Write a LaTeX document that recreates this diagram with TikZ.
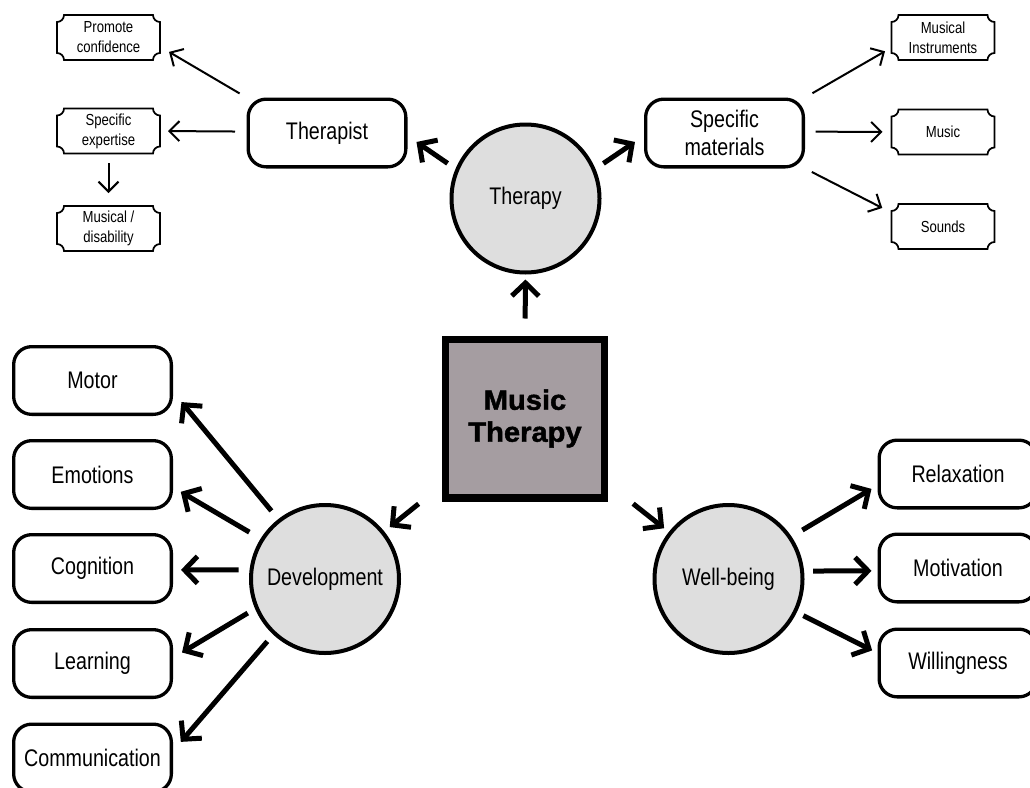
\documentclass[tikz,border=0pt]{standalone}
\usepackage{fontspec}
\setmainfont{Liberation Sans}[FakeStretch=0.82]
\newfontfamily\titlefont{Liberation Sans}[FakeStretch=1.04,FakeBold=1.6]
\usetikzlibrary{arrows.meta,calc}
\definecolor{squaregrey}{HTML}{A59DA1}
\definecolor{circlegrey}{HTML}{DEDEDE}

\tikzset{
  topic/.style={draw, rounded corners=18pt, line width=3.3pt, minimum width=157.7pt, minimum height=67.7pt, align=center, font=\fontsize{24}{28}\selectfont},
  hub/.style={circle, draw, fill=circlegrey, line width=4pt, minimum size=148pt, inner sep=0pt, font=\fontsize{24}{28}\selectfont},
  plaque/.style={minimum width=103pt, minimum height=45pt, inner sep=0pt, outer sep=0pt, align=center, font=\fontsize{16}{20}\selectfont},
  thickarrow/.style={line width=5pt, -{Straight Barb[length=13pt,width=27pt]}},
  thinarrow/.style={line width=2pt, -{Straight Barb[length=10pt,width=20pt]}}
}

\begin{document}
\begin{tikzpicture}[x=1pt,y=1pt]
  \useasboundingbox (0,0) rectangle (1030,-787);

  \node[draw, line width=7.3pt, fill=squaregrey, minimum size=158.7pt, inner sep=0pt, align=center,
        font=\titlefont\bfseries\fontsize{28}{32}\selectfont] (square) at (525,-418.5) {Music\\Therapy};

  \node[hub] (therapy) at (525.5,-198.5) {Therapy};
  \node[hub] (dev) at (325,-579) {Development};
  \node[hub] (well) at (728.5,-579) {Well-being};

  \node[topic] (therapist) at (327,-133) {Therapist};
  \node[topic] (materials) at (724.5,-133) {Specific\\materials};

  \node[plaque] (promote) at (108.5,-37.5) {Promote\\confidence};
  \node[plaque] (expertise) at (108.5,-131) {Specific\\expertise};
  \node[plaque] (disability) at (108.5,-228.5) {Musical /\\disability};
  \node[plaque] (instruments) at (943,-37.5) {Musical\\Instruments};
  \node[plaque] (music) at (943,-132) {Music};
  \node[plaque] (sounds) at (943,-226.5) {Sounds};

  \node[topic] (motor) at (92.5,-380.5) {Motor};
  \node[topic] (emotions) at (92.5,-474.5) {Emotions};
  \node[topic] (cognition) at (92.5,-568.5) {Cognition};
  \node[topic] (learning) at (92.5,-663.5) {Learning};
  \node[topic] (communication) at (92.5,-758) {Communication};

  \node[topic] (relaxation) at (958,-474) {Relaxation};
  \node[topic] (motivation) at (958,-568) {Motivation};
  \node[topic] (willingness) at (958,-663) {Willingness};

  % notched frames of the small boxes
  \foreach \p in {promote,expertise,disability,instruments,music,sounds}
    \draw[line width=1.7pt]
      ($(\p.north west)+(0,-7)$) arc[start angle=270,end angle=360,radius=7]
      -- ($(\p.north east)+(-7,0)$) arc[start angle=180,end angle=270,radius=7]
      -- ($(\p.south east)+(0,7)$) arc[start angle=90,end angle=180,radius=7]
      -- ($(\p.south west)+(7,0)$) arc[start angle=0,end angle=90,radius=7]
      -- cycle;

  \path[thickarrow]
  (square.north) edge[shorten <=17pt, shorten >=5pt] (therapy.south)
  (square) edge[shorten <=30pt, shorten >=7pt] (dev)
           edge[shorten <=32pt, shorten >=6pt] (well)
  (therapy.157) edge[shorten <=9.6pt, shorten >=10.9pt] (therapist.-2)
  (therapy.23) edge[shorten <=9.6pt, shorten >=10.9pt] (materials.182)
  (dev.128) edge[shorten <=10.7pt, shorten >=13.3pt] (motor.-8)
  (dev.148) edge[shorten <=13pt, shorten >=9pt] (emotions.-9)
  (dev.173) edge[shorten <=11pt, shorten >=8pt] (cognition.-1)
  (dev.203) edge[shorten <=8.5pt, shorten >=10.5pt] (learning.4)
  (dev.227) edge[shorten <=9pt, shorten >=12pt] (communication.5)
  (well.34) edge[shorten <=12.6pt, shorten >=7pt] (relaxation.188)
  (well.6) edge[shorten <=9pt, shorten >=6pt] (motivation.182)
  (well.-26) edge[shorten <=7.3pt, shorten >=6pt] (willingness.173)
  ;
  \path[thinarrow]
  (therapist.north west) edge[shorten <=8pt, shorten >=10.5pt] (promote.-10)
  (therapist.179) edge[shorten <=11.5pt, shorten >=8pt] (expertise.east)
  (expertise.south) edge[shorten <=9.5pt, shorten >=13pt] (disability.north)
  (materials.north east) edge[shorten <=8.6pt, shorten >=7.5pt] (instruments.191)
  (materials.1) edge[shorten <=10.5pt, shorten >=9pt] (music.west)
  (materials.south east) edge[shorten <=7.6pt, shorten >=10.4pt] (sounds.165)
  ;
\end{tikzpicture}
\end{document}
